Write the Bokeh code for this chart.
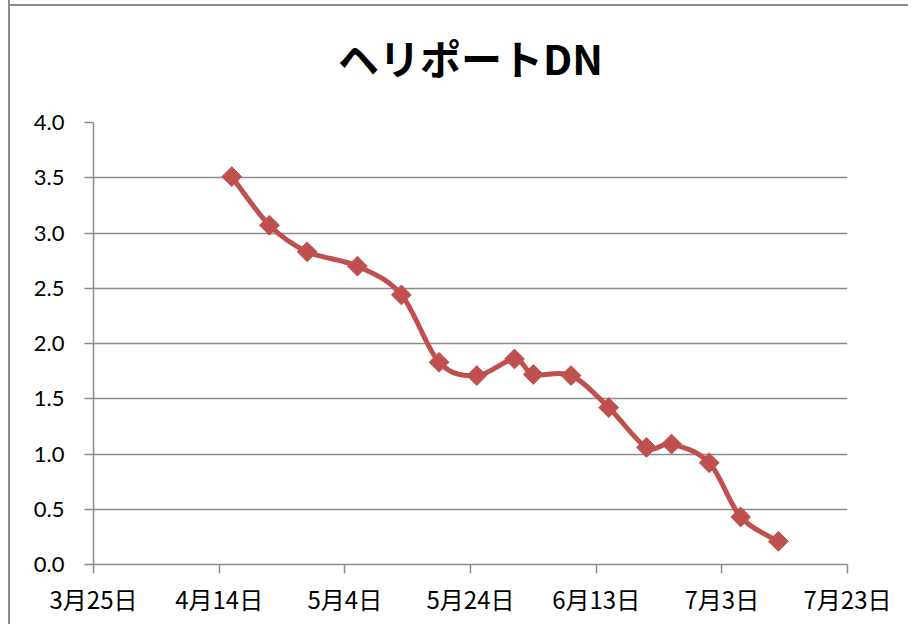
import numpy as np
import pandas as pd
from bokeh.plotting import figure
from bokeh.models import Range1d, FixedTicker
from bokeh.embed import file_html
from bokeh.resources import INLINE

# ---- data ----
dates = ["2013-04-16", "2013-04-22", "2013-04-28", "2013-05-06", "2013-05-13",
         "2013-05-19", "2013-05-25", "2013-05-31", "2013-06-03", "2013-06-09",
         "2013-06-15", "2013-06-21", "2013-06-25", "2013-07-01", "2013-07-06",
         "2013-07-12"]
values = [3.51, 3.07, 2.83, 2.70, 2.44, 1.83, 1.71, 1.86, 1.72, 1.71,
          1.42, 1.06, 1.09, 0.92, 0.43, 0.21]
tick_dates = ["2013-03-25", "2013-04-14", "2013-05-04", "2013-05-24",
              "2013-06-13", "2013-07-03", "2013-07-23"]
tick_labels = ["3月25日", "4月14日", "5月4日", "5月24日", "6月13日", "7月3日", "7月23日"]
y_ticks = [0.0, 0.5, 1.0, 1.5, 2.0, 2.5, 3.0, 3.5, 4.0]
title = "ヘリポートDN"


def to_ms(ds):
    return (pd.to_datetime(ds).values.astype("datetime64[ms]").astype("int64")).tolist()


xs = np.array(to_ms(dates), dtype=float)
ys = np.array(values, dtype=float)
tick_ms = to_ms(tick_dates)

COLOR = "#C0504D"
GRID = "#8C8C8C"

p = figure(width=900, height=636, output_backend="svg", toolbar_location=None,
           x_axis_type="datetime",
           x_range=Range1d(tick_ms[0], tick_ms[-1]), y_range=Range1d(0, 4),
           min_border_left=83, min_border_right=63, min_border_top=116,
           min_border_bottom=60)
p.styles = {"border-left": "2px solid #8C8C8C",
            "margin-left": "8px", "margin-top": "-12px",
            "background": "linear-gradient(#8C8C8C, #8C8C8C) 0px 16px / 100% 2px no-repeat white"}

p.title.text = title
p.title.align = "center"
p.title.text_font = "Noto Sans CJK JP"
p.title.text_font_style = "bold"
p.title.text_font_size = "41px"
p.title.text_color = "black"
p.title.standoff = 72

p.outline_line_color = None
p.background_fill_color = "white"
p.border_fill_alpha = 0

# axes
p.xaxis.ticker = FixedTicker(ticks=tick_ms)
p.xaxis.major_label_overrides = {int(t): lab for t, lab in zip(tick_ms, tick_labels)}
p.yaxis.ticker = FixedTicker(ticks=y_ticks)
p.yaxis.major_label_overrides = {v: f"{v:.1f}" for v in y_ticks}
for ax in (p.xaxis, p.yaxis):
    ax.axis_line_color = GRID
    ax.axis_line_width = 1.5
    ax.major_tick_line_color = GRID
    ax.major_tick_line_width = 1.5
    ax.major_tick_out = 9
    ax.major_tick_in = 0
    ax.minor_tick_line_color = None
    ax.major_label_text_color = "black"
p.xaxis.major_label_text_font = "Noto Sans CJK JP"
p.xaxis.major_label_text_font_size = "24px"
p.xaxis.major_label_standoff = 7
p.yaxis.major_label_text_font = "Lato"
p.yaxis.major_label_text_font_size = "22px"
p.yaxis.major_label_standoff = 20

p.xgrid.grid_line_color = None
p.ygrid.grid_line_color = GRID
p.ygrid.grid_line_width = 1.5

# smoothed line (Catmull-Rom style Bezier segments through data points)
n = len(xs)
xp = np.concatenate([[xs[0]], xs, [xs[-1]]])
yp = np.concatenate([[ys[0]], ys, [ys[-1]]])
x0 = xs[:-1]; y0 = ys[:-1]; x1 = xs[1:]; y1 = ys[1:]
cx0 = x0 + (xp[2:n + 1] - xp[0:n - 1]) / 6.0
cy0 = y0 + (yp[2:n + 1] - yp[0:n - 1]) / 6.0
cx1 = x1 - (xp[3:n + 2] - xp[1:n]) / 6.0
cy1 = y1 - (yp[3:n + 2] - yp[1:n]) / 6.0
p.bezier(x0=x0, y0=y0, x1=x1, y1=y1, cx0=cx0, cy0=cy0, cx1=cx1, cy1=cy1,
         line_color=COLOR, line_width=5, line_cap="round")

p.scatter(xs, ys, marker="square", size=14, angle=np.pi / 4,
          fill_color=COLOR, line_color=COLOR, line_width=1)

open("out.html", "w").write(file_html(p, INLINE))
